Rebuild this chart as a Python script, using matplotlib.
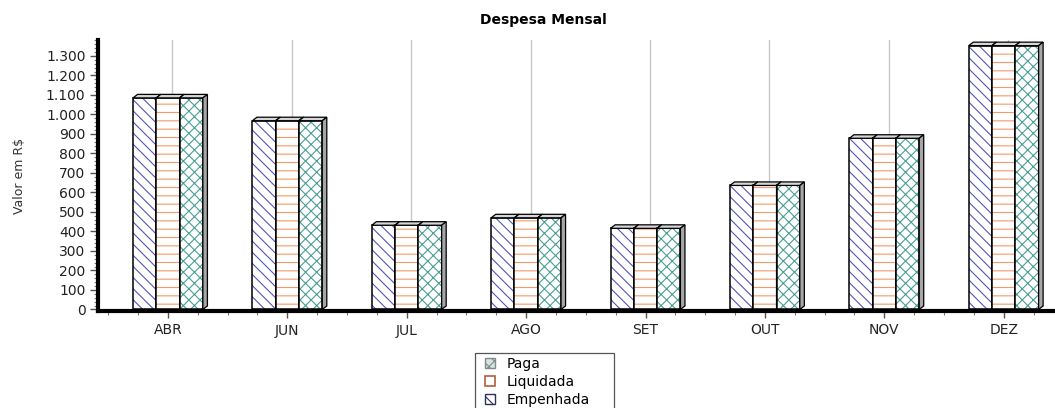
import matplotlib
matplotlib.use("Agg")
import matplotlib.pyplot as plt
from matplotlib.patches import Patch, Polygon, Rectangle
from matplotlib.ticker import MultipleLocator, FuncFormatter

# ── data ──
meses = ["ABR", "JUN", "JUL", "AGO", "SET", "OUT", "NOV", "DEZ"]
empenhada = [1085, 968, 432, 470, 416, 636, 878, 1353]
liquidada = [1085, 968, 432, 470, 416, 636, 878, 1353]
paga = [1085, 968, 432, 470, 416, 636, 878, 1353]

series = [
    ("Empenhada", empenhada, "\\\\\\", "#5555bb"),
    ("Liquidada", liquidada, "--", "#f59a66"),
    ("Paga", paga, "xxx", "#4a9e96"),
]

plt.rcParams["hatch.linewidth"] = 0.8

fig = plt.figure(figsize=(10.55, 4.08), dpi=100)
ax = fig.add_axes([98 / 1055, 97 / 408, 1 - 98 / 1055, 271 / 408])

w = 0.195      # bar width
dx, dy = 0.038, 18   # 3D depth

xs = list(range(len(meses)))
for c in xs:
    ax.axvline(c + dx, color="#c8c8c8", linewidth=1, zorder=0)

z = 2
for i, (name, vals, hatch, col) in enumerate(series):
    pos = [c + (i - 1) * w for c in xs]
    ax.bar(pos, vals, width=w, color="white", hatch=hatch, edgecolor=col,
           linewidth=0, zorder=z)
    ax.bar(pos, vals, width=w, fill=False, edgecolor="black", linewidth=1.1,
           zorder=z + 0.1)
    for x, v in zip(pos, vals):
        top = Polygon([(x - w / 2, v), (x + w / 2, v), (x + w / 2 + dx, v + dy),
                       (x - w / 2 + dx, v + dy)], closed=True,
                      facecolor="#d6d6d6", edgecolor="black", linewidth=0.9,
                      zorder=z + 0.2)
        side = Polygon([(x + w / 2, 0), (x + w / 2 + dx, dy), (x + w / 2 + dx, v + dy),
                        (x + w / 2, v)], closed=True,
                       facecolor="#a6a6a6", edgecolor="black", linewidth=0.9,
                       zorder=z + 0.2)
        ax.add_patch(top)
        ax.add_patch(side)
    z += 1

ax.set_xlim(-0.586, 7.43)
ax.set_ylim(-8, 1382)

ax.spines["top"].set_visible(False)
ax.spines["right"].set_visible(False)
ax.spines["left"].set_linewidth(3)
ax.spines["bottom"].set_linewidth(3)

ax.set_xticks(xs)
ax.set_xticklabels(meses, fontsize=10, color="#222222")
ax.xaxis.set_minor_locator(MultipleLocator(0.25))
ax.tick_params(axis="x", which="major", length=5, width=1, color="#555555", pad=4)
ax.tick_params(axis="x", which="minor", length=3, width=0.8, color="#777777")

ax.yaxis.set_major_locator(MultipleLocator(100))
ax.yaxis.set_minor_locator(MultipleLocator(20))
ax.yaxis.set_major_formatter(FuncFormatter(lambda v, p: f"{int(v):,}".replace(",", ".")))
ax.set_ylim(-8, 1382)
ax.tick_params(axis="y", which="major", length=6, width=1, color="#555555",
               labelsize=10, labelcolor="#222222", pad=3)
ax.tick_params(axis="y", which="minor", length=3, width=0.8, color="#777777")

ax.set_ylabel("Valor em R$", fontsize=9, color="#333333", labelpad=14)
fig.text(543 / 1055, 1 - 20 / 408, "Despesa Mensal", fontsize=10,
         fontweight="bold", ha="center", va="center")

# legend
handles = [
    Patch(facecolor="#cfe6e2", edgecolor="#888888", hatch="xxx", linewidth=1),
    Patch(facecolor="white", edgecolor="#b0603a", linewidth=1.2),
    Patch(facecolor="white", edgecolor="#303060", hatch="\\\\\\", linewidth=1),
]
leg = fig.legend(handles, ["Paga", "Liquidada", "Empenhada"], loc="upper left",
                 bbox_to_anchor=(475 / 1055, 1 - 347 / 408), frameon=False,
                 fontsize=10, handlelength=0.75, handleheight=0.75,
                 handletextpad=0.8, labelspacing=0.3, borderpad=0.2)
fig.patches.append(Rectangle((475 / 1055, -0.05), (614 - 475) / 1055,
                             (408 - 352.7) / 408 + 0.05, transform=fig.transFigure,
                             fill=False, edgecolor="#555555", linewidth=0.9))

fig.savefig("out.png", dpi=100)
